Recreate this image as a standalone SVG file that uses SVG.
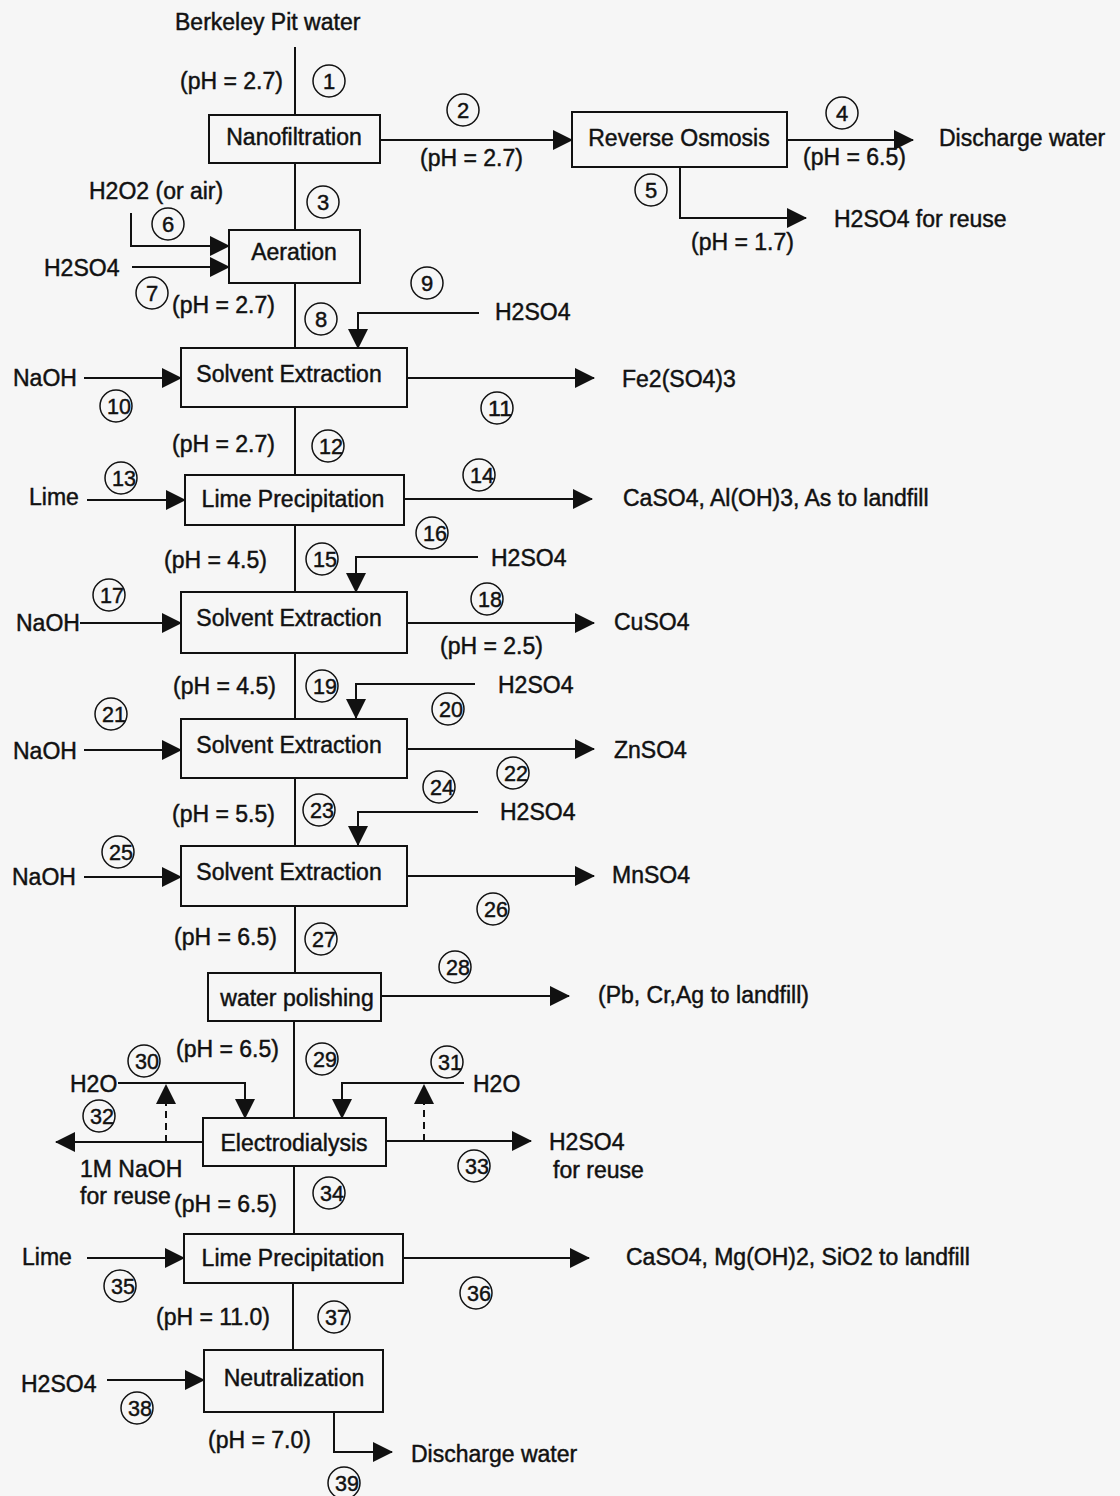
<svg xmlns="http://www.w3.org/2000/svg" width="1120" height="1496" viewBox="0 0 1120 1496">
<defs>
<marker id="ah" viewBox="0 0 20 20" refX="19" refY="10" markerWidth="20" markerHeight="20" markerUnits="userSpaceOnUse" orient="auto">
<path d="M0,0 L20,10 L0,20 z" fill="#111"/>
</marker>
</defs>
<style>
text{font-family:"Liberation Sans",Arial,sans-serif;font-size:23px;fill:#111;stroke:#111;stroke-width:0.45}
.box rect{fill:none;stroke:#111;stroke-width:2}
.box text{text-anchor:middle}
.c circle{fill:none;stroke:#111;stroke-width:1.5}
.c text{text-anchor:middle;font-size:22px}
.ln{fill:none;stroke:#111;stroke-width:2}
.ar{fill:none;stroke:#111;stroke-width:2;marker-end:url(#ah)}
.ds{fill:none;stroke:#111;stroke-width:2;stroke-dasharray:7,5;marker-end:url(#ah)}
</style>
<rect width="1120" height="1496" fill="#f6f6f6"/>

<g id="connectors">
<path class="ln" d="M295,47 V115"/>
<path class="ln" d="M295,163 V230"/>
<path class="ln" d="M295,283 V348"/>
<path class="ln" d="M295,407 V475"/>
<path class="ln" d="M295,525 V592"/>
<path class="ln" d="M295,653 V718"/>
<path class="ln" d="M295,778 V845"/>
<path class="ln" d="M295,906 V972"/>
<path class="ln" d="M294,1021 V1118"/>
<path class="ln" d="M294,1166 V1234"/>
<path class="ln" d="M293,1283 V1350"/>
<path class="ar" d="M380,140 H572"/>
<path class="ar" d="M787,140 H913"/>
<path class="ar" d="M680,167 V218 H806"/>
<path class="ar" d="M131,213 V246 H229"/>
<path class="ar" d="M132,267 H229"/>
<path class="ar" d="M479,313 H358 V348"/>
<path class="ar" d="M84,378 H181"/>
<path class="ar" d="M407,378 H594"/>
<path class="ar" d="M87,500 H185"/>
<path class="ar" d="M404,499 H592"/>
<path class="ar" d="M478,557 H356 V592"/>
<path class="ar" d="M80,623 H181"/>
<path class="ar" d="M407,623 H594"/>
<path class="ar" d="M475,684 H356 V718"/>
<path class="ar" d="M84,750 H181"/>
<path class="ar" d="M407,749 H594"/>
<path class="ar" d="M478,812 H358 V845"/>
<path class="ar" d="M84,877 H181"/>
<path class="ar" d="M407,876 H594"/>
<path class="ar" d="M381,996 H569"/>
<path class="ar" d="M118,1083 H245 V1118"/>
<path class="ds" d="M166,1142 V1085"/>
<path class="ar" d="M203,1142 H56"/>
<path class="ar" d="M464,1083 H342 V1118"/>
<path class="ds" d="M424,1141 V1085"/>
<path class="ar" d="M386,1141 H531"/>
<path class="ar" d="M87,1258 H184"/>
<path class="ar" d="M403,1258 H589"/>
<path class="ar" d="M107,1380 H204"/>
<path class="ar" d="M334,1412 V1452 H392"/>
</g>

<g id="nanofiltration" class="box"><rect x="209" y="115" width="171" height="48"/><text x="294" y="145">Nanofiltration</text></g>
<g id="reverse-osmosis" class="box"><rect x="572" y="112" width="215" height="55"/><text x="679" y="146">Reverse Osmosis</text></g>
<g id="aeration" class="box"><rect x="229" y="230" width="131" height="53"/><text x="294" y="260">Aeration</text></g>
<g id="solvent-extraction-1" class="box"><rect x="181" y="348" width="226" height="59"/><text x="289" y="382">Solvent Extraction</text></g>
<g id="lime-precipitation-1" class="box"><rect x="185" y="475" width="219" height="50"/><text x="293" y="507">Lime Precipitation</text></g>
<g id="solvent-extraction-2" class="box"><rect x="181" y="592" width="226" height="61"/><text x="289" y="626">Solvent Extraction</text></g>
<g id="solvent-extraction-3" class="box"><rect x="181" y="719" width="226" height="59"/><text x="289" y="753">Solvent Extraction</text></g>
<g id="solvent-extraction-4" class="box"><rect x="181" y="846" width="226" height="60"/><text x="289" y="880">Solvent Extraction</text></g>
<g id="water-polishing" class="box"><rect x="208" y="973" width="173" height="48"/><text x="297" y="1006">water polishing</text></g>
<g id="electrodialysis" class="box"><rect x="203" y="1118" width="183" height="48"/><text x="294" y="1151">Electrodialysis</text></g>
<g id="lime-precipitation-2" class="box"><rect x="184" y="1234" width="219" height="49"/><text x="293" y="1266">Lime Precipitation</text></g>
<g id="neutralization" class="box"><rect x="204" y="1350" width="179" height="62"/><text x="294" y="1386">Neutralization</text></g>

<g id="labels">
<text x="175" y="30">Berkeley Pit water</text>
<text x="180" y="89">(pH = 2.7)</text>
<text x="420" y="166">(pH = 2.7)</text>
<text x="803" y="165">(pH = 6.5)</text>
<text x="939" y="146">Discharge water</text>
<text x="834" y="227">H2SO4 for reuse</text>
<text x="691" y="250">(pH = 1.7)</text>
<text x="89" y="199">H2O2 (or air)</text>
<text x="44" y="276">H2SO4</text>
<text x="172" y="313">(pH = 2.7)</text>
<text x="495" y="320">H2SO4</text>
<text x="13" y="386">NaOH</text>
<text x="622" y="387">Fe2(SO4)3</text>
<text x="172" y="452">(pH = 2.7)</text>
<text x="29" y="505">Lime</text>
<text x="623" y="506">CaSO4, Al(OH)3, As to landfill</text>
<text x="491" y="566">H2SO4</text>
<text x="164" y="568">(pH = 4.5)</text>
<text x="16" y="631">NaOH</text>
<text x="614" y="630">CuSO4</text>
<text x="440" y="654">(pH = 2.5)</text>
<text x="173" y="694">(pH = 4.5)</text>
<text x="498" y="693">H2SO4</text>
<text x="13" y="759">NaOH</text>
<text x="614" y="758">ZnSO4</text>
<text x="172" y="822">(pH = 5.5)</text>
<text x="500" y="820">H2SO4</text>
<text x="12" y="885">NaOH</text>
<text x="612" y="883">MnSO4</text>
<text x="174" y="945">(pH = 6.5)</text>
<text x="598" y="1003">(Pb, Cr,Ag to landfill)</text>
<text x="176" y="1057">(pH = 6.5)</text>
<text x="70" y="1092">H2O</text>
<text x="473" y="1092">H2O</text>
<text x="549" y="1150">H2SO4</text>
<text x="553" y="1178">for reuse</text>
<text x="80" y="1177">1M NaOH</text>
<text x="80" y="1204">for reuse</text>
<text x="174" y="1212">(pH = 6.5)</text>
<text x="22" y="1265">Lime</text>
<text x="626" y="1265">CaSO4, Mg(OH)2, SiO2 to landfill</text>
<text x="156" y="1325">(pH = 11.0)</text>
<text x="21" y="1392">H2SO4</text>
<text x="208" y="1448">(pH = 7.0)</text>
<text x="411" y="1462">Discharge water</text>
</g>

<g id="stream-numbers" class="c">
<g><circle cx="329" cy="81" r="16"/><text x="329" y="89">1</text></g>
<g><circle cx="463" cy="110" r="16"/><text x="463" y="118">2</text></g>
<g><circle cx="323" cy="202" r="16"/><text x="323" y="210">3</text></g>
<g><circle cx="842" cy="113" r="16"/><text x="842" y="121">4</text></g>
<g><circle cx="651" cy="190" r="16"/><text x="651" y="198">5</text></g>
<g><circle cx="168" cy="224" r="16"/><text x="168" y="232">6</text></g>
<g><circle cx="152" cy="293" r="16"/><text x="152" y="301">7</text></g>
<g><circle cx="321" cy="319" r="16"/><text x="321" y="327">8</text></g>
<g><circle cx="427" cy="283" r="16"/><text x="427" y="291">9</text></g>
<g><circle cx="116" cy="406" r="16"/><text x="119" y="414" textLength="24" lengthAdjust="spacingAndGlyphs">10</text></g>
<g><circle cx="497" cy="408" r="16"/><text x="500" y="416" textLength="24" lengthAdjust="spacingAndGlyphs">11</text></g>
<g><circle cx="328" cy="446" r="16"/><text x="331" y="454" textLength="24" lengthAdjust="spacingAndGlyphs">12</text></g>
<g><circle cx="121" cy="478" r="16"/><text x="124" y="486" textLength="24" lengthAdjust="spacingAndGlyphs">13</text></g>
<g><circle cx="479" cy="475" r="16"/><text x="482" y="483" textLength="24" lengthAdjust="spacingAndGlyphs">14</text></g>
<g><circle cx="322" cy="559" r="16"/><text x="325" y="567" textLength="24" lengthAdjust="spacingAndGlyphs">15</text></g>
<g><circle cx="432" cy="533" r="16"/><text x="435" y="541" textLength="24" lengthAdjust="spacingAndGlyphs">16</text></g>
<g><circle cx="109" cy="595" r="16"/><text x="112" y="603" textLength="24" lengthAdjust="spacingAndGlyphs">17</text></g>
<g><circle cx="487" cy="599" r="16"/><text x="490" y="607" textLength="24" lengthAdjust="spacingAndGlyphs">18</text></g>
<g><circle cx="322" cy="686" r="16"/><text x="325" y="694" textLength="24" lengthAdjust="spacingAndGlyphs">19</text></g>
<g><circle cx="448" cy="709" r="16"/><text x="451" y="717" textLength="24" lengthAdjust="spacingAndGlyphs">20</text></g>
<g><circle cx="111" cy="714" r="16"/><text x="114" y="722" textLength="24" lengthAdjust="spacingAndGlyphs">21</text></g>
<g><circle cx="513" cy="773" r="16"/><text x="516" y="781" textLength="24" lengthAdjust="spacingAndGlyphs">22</text></g>
<g><circle cx="319" cy="810" r="16"/><text x="322" y="818" textLength="24" lengthAdjust="spacingAndGlyphs">23</text></g>
<g><circle cx="439" cy="787" r="16"/><text x="442" y="795" textLength="24" lengthAdjust="spacingAndGlyphs">24</text></g>
<g><circle cx="118" cy="852" r="16"/><text x="121" y="860" textLength="24" lengthAdjust="spacingAndGlyphs">25</text></g>
<g><circle cx="493" cy="909" r="16"/><text x="496" y="917" textLength="24" lengthAdjust="spacingAndGlyphs">26</text></g>
<g><circle cx="321" cy="939" r="16"/><text x="324" y="947" textLength="24" lengthAdjust="spacingAndGlyphs">27</text></g>
<g><circle cx="455" cy="967" r="16"/><text x="458" y="975" textLength="24" lengthAdjust="spacingAndGlyphs">28</text></g>
<g><circle cx="322" cy="1059" r="16"/><text x="325" y="1067" textLength="24" lengthAdjust="spacingAndGlyphs">29</text></g>
<g><circle cx="144" cy="1061" r="16"/><text x="147" y="1069" textLength="24" lengthAdjust="spacingAndGlyphs">30</text></g>
<g><circle cx="447" cy="1062" r="16"/><text x="450" y="1070" textLength="24" lengthAdjust="spacingAndGlyphs">31</text></g>
<g><circle cx="99" cy="1116" r="16"/><text x="102" y="1124" textLength="24" lengthAdjust="spacingAndGlyphs">32</text></g>
<g><circle cx="474" cy="1166" r="16"/><text x="477" y="1174" textLength="24" lengthAdjust="spacingAndGlyphs">33</text></g>
<g><circle cx="329" cy="1193" r="16"/><text x="332" y="1201" textLength="24" lengthAdjust="spacingAndGlyphs">34</text></g>
<g><circle cx="120" cy="1286" r="16"/><text x="123" y="1294" textLength="24" lengthAdjust="spacingAndGlyphs">35</text></g>
<g><circle cx="476" cy="1293" r="16"/><text x="479" y="1301" textLength="24" lengthAdjust="spacingAndGlyphs">36</text></g>
<g><circle cx="334" cy="1317" r="16"/><text x="337" y="1325" textLength="24" lengthAdjust="spacingAndGlyphs">37</text></g>
<g><circle cx="137" cy="1408" r="16"/><text x="140" y="1416" textLength="24" lengthAdjust="spacingAndGlyphs">38</text></g>
<g><circle cx="344" cy="1483" r="16"/><text x="347" y="1491" textLength="24" lengthAdjust="spacingAndGlyphs">39</text></g>
</g>
</svg>
